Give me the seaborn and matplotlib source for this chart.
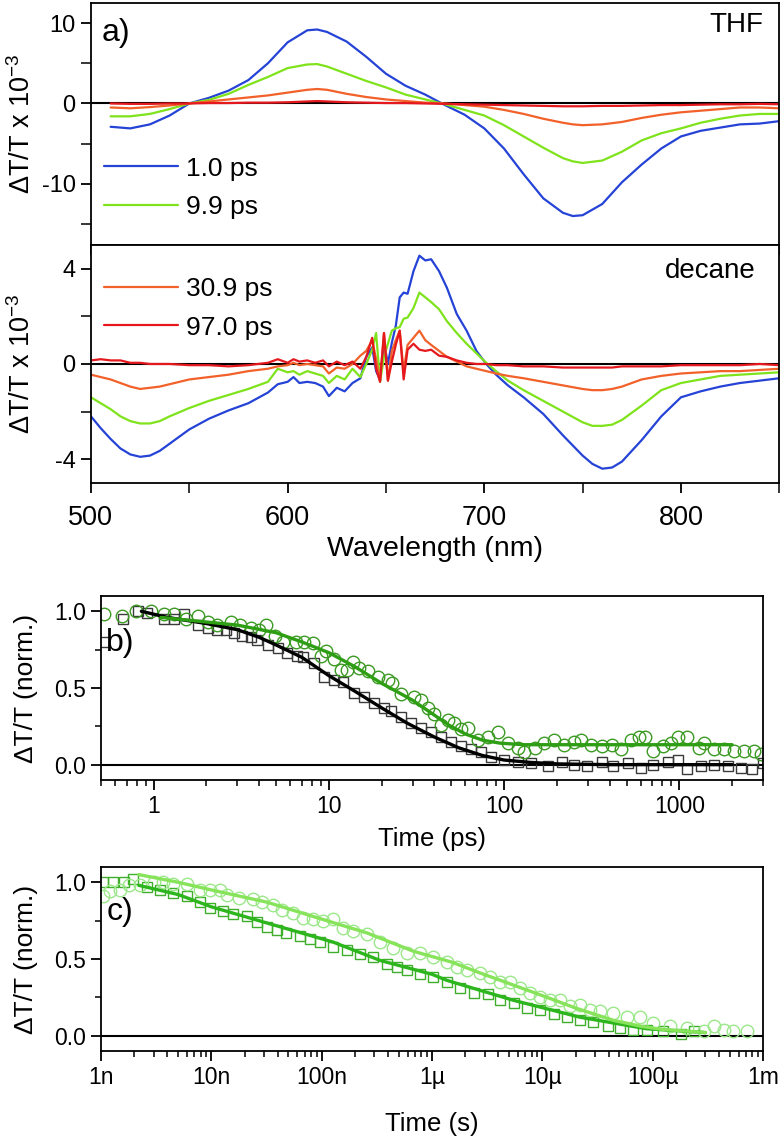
import matplotlib
matplotlib.use("Agg")
import matplotlib.pyplot as plt
from matplotlib.ticker import MultipleLocator, LogLocator, FixedLocator, FixedFormatter, NullFormatter
from matplotlib.lines import Line2D
import seaborn as sns

# ---------------- panel a: spectra ----------------
delays = ["1.0 ps", "9.9 ps", "30.9 ps", "97.0 ps"]
delay_colors = ["#2543d6", "#7fe31c", "#f2612a", "#e5181e"]

wl_thf = [510, 520, 530, 540, 550, 560, 570, 580, 590, 600, 610, 615, 620, 630, 640, 650, 660, 670,
          680, 690, 700, 710, 720, 730, 740, 745, 750, 760, 770, 780, 790, 800, 810, 820, 830, 840, 850]
thf_1ps = [-2.9, -3.1, -2.6, -1.5, 0.0, 0.7, 1.6, 2.9, 5.0, 7.6, 9.1, 9.2, 8.9, 7.7, 5.8, 3.7, 2.2, 1.1,
           -0.2, -1.4, -3.1, -5.6, -8.8, -11.8, -13.6, -14.0, -13.9, -12.5, -9.8, -7.6, -5.6, -4.1, -3.4,
           -3.0, -2.6, -2.5, -2.2]
thf_10ps = [-1.6, -1.6, -1.3, -0.7, 0.0, 0.45, 1.2, 2.3, 3.3, 4.4, 4.85, 4.9, 4.6, 3.7, 2.8, 2.0, 1.1, 0.5,
            -0.1, -0.8, -1.5, -2.7, -4.1, -5.5, -6.8, -7.2, -7.4, -7.1, -6.0, -4.6, -3.7, -3.1, -2.4,
            -1.9, -1.5, -1.3, -1.3]
thf_31ps = [-0.5, -0.6, -0.45, -0.25, 0.0, 0.25, 0.5, 0.75, 1.0, 1.35, 1.7, 1.8, 1.7, 1.2, 0.8, 0.5, 0.3, 0.1,
            0.0, -0.2, -0.4, -0.8, -1.3, -1.9, -2.4, -2.6, -2.7, -2.6, -2.3, -1.8, -1.4, -1.1, -0.9,
            -0.7, -0.5, -0.5, -0.6]
thf_97ps = [0.0, -0.05, -0.05, 0.0, 0.0, 0.05, 0.05, 0.1, 0.1, 0.15, 0.25, 0.3, 0.25, 0.15, 0.1, 0.05, 0.05, 0.0,
            -0.05, -0.1, -0.15, -0.2, -0.25, -0.3, -0.35, -0.35, -0.35, -0.3, -0.3, -0.25, -0.2, -0.2, -0.15,
            -0.1, -0.1, -0.05, -0.1]

wl_dec = [500, 505, 510, 515, 520, 525, 530, 535, 540, 550, 560, 570, 580, 590, 595, 600, 603, 606, 610,
          614, 618, 621, 625, 629, 633, 637, 640, 643, 645, 647, 649, 651, 653, 655, 657, 659, 661, 664,
          667, 670, 673, 677, 681, 686, 691, 696, 701, 706, 712, 720, 730, 740, 750, 755, 760, 765, 770,
          780, 790, 800, 810, 820, 830, 840, 850]
dec_1ps = [-2.2, -2.7, -3.15, -3.55, -3.8, -3.9, -3.85, -3.65, -3.35, -2.75, -2.3, -1.95, -1.65, -1.2, -0.85,
           -0.75, -0.55, -0.8, -0.75, -0.8, -0.95, -1.35, -1.0, -1.15, -0.8, -0.6, 0.3, 0.7, -0.3, -0.65,
           0.9, 0.0, 0.9, 1.6, 2.8, 3.0, 2.95, 3.9, 4.55, 4.35, 4.4, 3.9, 3.2, 2.1, 1.4, 0.55, 0.0, -0.45,
           -0.9, -1.4, -2.1, -3.0, -3.85, -4.2, -4.4, -4.35, -4.1, -3.2, -2.2, -1.4, -1.15, -0.95, -0.8,
           -0.7, -0.6]
dec_10ps = [-1.4, -1.65, -1.9, -2.2, -2.4, -2.5, -2.5, -2.4, -2.2, -1.85, -1.55, -1.3, -1.05, -0.75, -0.2,
            -0.35, -0.3, -0.45, -0.3, -0.4, -0.5, -0.8, -0.5, -0.65, -0.2, -0.55, 0.0, 0.6, 1.3, -0.75,
            0.3, 0.85, 1.4, 1.5, 1.55, 1.9, 1.95, 2.35, 3.0, 2.8, 2.6, 2.3, 1.8, 1.3, 0.85, 0.45, 0.05, -0.3,
            -0.7, -1.1, -1.55, -2.0, -2.45, -2.6, -2.6, -2.55, -2.35, -1.75, -1.1, -0.8, -0.65, -0.5, -0.45,
            -0.4, -0.35]
dec_31ps = [-0.45, -0.55, -0.65, -0.8, -0.95, -1.05, -1.0, -0.95, -0.85, -0.65, -0.55, -0.45, -0.3, -0.2, -0.1,
            -0.05, 0.05, -0.05, 0.0, -0.05, -0.1, -0.4, -0.15, -0.2, 0.0, 0.35, 0.55, 1.0, 0.2, -0.7,
            1.3, -0.7, 0.55, 1.0, 1.4, -0.3, 0.8, 1.1, 1.4, 1.0, 0.8, 0.55, 0.3, 0.1, -0.1, -0.2, -0.3, -0.4,
            -0.5, -0.6, -0.75, -0.9, -1.05, -1.1, -1.1, -1.05, -0.95, -0.65, -0.5, -0.4, -0.35, -0.3, -0.3,
            -0.25, -0.2]
dec_97ps = [0.15, 0.2, 0.15, 0.15, 0.05, 0.05, 0.0, 0.0, 0.0, -0.05, -0.05, -0.1, -0.05, 0.05, 0.2,
            0.05, 0.2, 0.1, 0.15, 0.05, 0.15, -0.1, 0.1, -0.05, 0.1, -0.2, 0.3, 1.1, -0.2, -0.75,
            1.3, -0.7, 0.1, 0.8, 1.4, -0.65, 0.6, 0.85, 0.6, 0.55, 0.6, 0.35, 0.3, 0.15, 0.05, 0.0, 0.0, -0.05,
            -0.05, -0.1, -0.1, -0.15, -0.15, -0.15, -0.15, -0.15, -0.1, -0.1, -0.1, -0.05, -0.05, -0.05, -0.05,
            0.0, -0.05]

# ---------------- panel b: ps kinetics ----------------
sq_t_ps = [0.52, 0.67, 0.81, 0.92, 1.14, 1.3, 1.48, 1.78, 2.03, 2.3, 2.6, 2.87, 3.2, 3.58, 3.9, 4.5, 5.1, 5.8,
           6.6, 7.1, 8.2, 9.4, 10.7, 12, 13.9, 15.8, 18, 20.6, 22.7, 25.8, 29.4, 33.5, 38.2, 43.5, 49.6, 56.5,
           64.4, 73.4, 83.6, 99.7, 120, 143, 178, 215, 250, 297, 360, 420, 509, 605, 705, 865, 980, 1110,
           1325, 1580, 1900, 2250, 2600, 3000]
sq_ps = [0.80, 0.95, 1.0, 0.99, 0.95, 0.95, 0.98, 0.91, 0.89, 0.88, 0.88, 0.86, 0.84, 0.83, 0.81, 0.78, 0.76,
         0.73, 0.71, 0.70, 0.66, 0.57, 0.55, 0.54, 0.47, 0.44, 0.40, 0.37, 0.35, 0.31, 0.27, 0.24, 0.21, 0.18,
         0.15, 0.12, 0.10, 0.08, 0.05, 0.03, 0.02, 0.01, -0.01, 0.02, 0.0, -0.01, 0.02, -0.01, 0.01, -0.02,
         0.0, 0.02, 0.03, -0.03, -0.01, 0.0, -0.01, -0.02, -0.03, 0.01]
ci_t_ps = [0.52, 0.66, 0.79, 0.96, 1.14, 1.3, 1.52, 1.78, 2.03, 2.3, 2.75, 3.1, 3.58, 4.0, 4.4, 4.9, 5.5, 6.5,
           7.2, 8.1, 9.0, 9.6, 10.7, 11.7, 12.6, 13.7, 14.9, 16.6, 19.0, 21.7, 23.0, 25.8, 30.6, 33.5, 36.7,
           39.8, 43.5, 47.6, 51.9, 56.5, 61.8, 70.9, 80.8, 91.9, 105, 120, 130, 149, 169, 193, 220, 250, 275,
           315, 360, 410, 466, 530, 590, 640, 705, 805, 900, 980, 1110, 1290, 1390, 1580, 1800, 2050, 2340,
           2670, 2940]
ci_ps = [0.98, 0.97, 1.0, 1.0, 0.98, 0.98, 0.95, 0.97, 0.93, 0.91, 0.93, 0.91, 0.89, 0.88, 0.91, 0.84, 0.80,
         0.80, 0.80, 0.79, 0.71, 0.74, 0.69, 0.62, 0.62, 0.67, 0.63, 0.61, 0.57, 0.55, 0.53, 0.46, 0.44, 0.42,
         0.37, 0.33, 0.26, 0.29, 0.27, 0.23, 0.24, 0.16, 0.18, 0.21, 0.14, 0.11, 0.08, 0.11, 0.14, 0.16, 0.13,
         0.15, 0.16, 0.13, 0.12, 0.13, 0.10, 0.16, 0.18, 0.18, 0.09, 0.12, 0.14, 0.18, 0.18, 0.11, 0.14, 0.10,
         0.10, 0.09, 0.09, 0.09, 0.07]
fit_sq_t_ps = [0.85, 1.2, 2, 3, 4, 5, 7, 10, 14, 20, 28, 40, 55, 75, 100, 140, 200, 400, 1000, 2000]
fit_sq_ps = [1.0, 0.96, 0.92, 0.88, 0.83, 0.78, 0.70, 0.58, 0.48, 0.37, 0.27, 0.18, 0.11, 0.06, 0.03, 0.015,
             0.005, 0.0, 0.0, 0.0]
fit_ci_t_ps = [1.1, 2, 3, 5, 7, 10, 14, 20, 25, 30, 38, 48, 60, 75, 95, 130, 200, 500, 2000]
fit_ci_ps = [0.96, 0.93, 0.91, 0.86, 0.80, 0.73, 0.64, 0.53, 0.47, 0.42, 0.34, 0.26, 0.20, 0.16, 0.14, 0.13,
             0.13, 0.13, 0.13]

# ---------------- panel c: ns-ms kinetics ----------------
sq_t_s = [1.04e-9, 1.28e-9, 1.6e-9, 1.95e-9, 2.6e-9, 3.4e-9, 4.5e-9, 6e-9, 7.9e-9, 9.7e-9, 12.7e-9, 15.7e-9,
          21e-9, 26e-9, 32e-9, 39e-9, 48e-9, 63e-9, 78e-9, 97e-9, 127e-9, 170e-9, 222e-9, 293e-9, 390e-9,
          480e-9, 590e-9, 780e-9, 1.02e-6, 1.37e-6, 1.8e-6, 2.4e-6, 3.2e-6, 4.1e-6, 5.5e-6, 7.3e-6, 9.6e-6,
          12.7e-6, 16.8e-6, 22e-6, 29e-6, 39e-6, 51e-6, 67e-6, 88e-6, 125e-6, 180e-6, 236e-6]
sq_s = [1.0, 1.0, 1.0, 1.02, 0.97, 0.95, 0.93, 0.91, 0.87, 0.83, 0.81, 0.79, 0.78, 0.74, 0.71, 0.69, 0.67,
        0.65, 0.63, 0.61, 0.58, 0.56, 0.53, 0.51, 0.47, 0.45, 0.43, 0.40, 0.38, 0.35, 0.31, 0.28, 0.27, 0.23,
        0.21, 0.18, 0.17, 0.14, 0.12, 0.10, 0.09, 0.06, 0.05, 0.04, 0.04, 0.03, 0.01, 0.03]
ci_t_s = [1.04e-9, 1.2e-9, 1.5e-9, 1.8e-9, 2.25e-9, 3.0e-9, 3.65e-9, 4.5e-9, 6.0e-9, 7.9e-9, 9.7e-9, 12e-9,
          13.8e-9, 18e-9, 24e-9, 29e-9, 36e-9, 44e-9, 55e-9, 68e-9, 83e-9, 103e-9, 127e-9, 157e-9, 193e-9,
          257e-9, 340e-9, 440e-9, 590e-9, 780e-9, 1.02e-6, 1.37e-6, 1.67e-6, 2.07e-6, 2.7e-6, 3.35e-6,
          4.1e-6, 5.1e-6, 6.3e-6, 7.8e-6, 9.6e-6, 11.8e-6, 14.5e-6, 17.9e-6, 22e-6, 27e-6, 33e-6, 44e-6,
          58e-6, 77e-6, 100e-6, 144e-6, 205e-6, 290e-6, 360e-6, 440e-6, 540e-6, 720e-6]
ci_s = [0.91, 0.94, 0.95, 0.98, 0.98, 1.0, 1.0, 0.99, 0.99, 0.95, 0.95, 0.95, 0.92, 0.90, 0.89, 0.87, 0.85,
        0.82, 0.80, 0.77, 0.76, 0.75, 0.76, 0.70, 0.68, 0.66, 0.61, 0.57, 0.54, 0.54, 0.51, 0.48, 0.45, 0.43,
        0.41, 0.38, 0.35, 0.35, 0.31, 0.28, 0.25, 0.23, 0.23, 0.19, 0.20, 0.17, 0.16, 0.15, 0.12, 0.12, 0.08,
        0.06, 0.05, 0.03, 0.06, 0.04, 0.03, 0.03]
fit_sq_t_s = [2.2e-9, 5e-9, 10e-9, 30e-9, 127e-9, 340e-9, 1e-6, 1.37e-6, 5.5e-6, 22e-6, 88e-6, 300e-6]
fit_sq_s = [0.98, 0.92, 0.84, 0.74, 0.61, 0.49, 0.40, 0.36, 0.23, 0.12, 0.045, 0.02]
fit_ci_t_s = [2.2e-9, 5e-9, 10e-9, 32e-9, 100e-9, 257e-9, 680e-9, 1.5e-6, 2.7e-6, 5e-6, 11e-6, 20e-6, 44e-6,
              80e-6, 125e-6, 200e-6, 300e-6]
fit_ci_s = [1.05, 1.0, 0.95, 0.87, 0.76, 0.67, 0.55, 0.48, 0.41, 0.34, 0.25, 0.18, 0.10, 0.06, 0.04, 0.03, 0.02]

c_ticks = [1e-9, 1e-8, 1e-7, 1e-6, 1e-5, 1e-4, 1e-3]
c_tick_labels = ["1n", "10n", "100n", "1µ", "10µ", "100µ", "1m"]

sns.set_style("ticks")
plt.rcParams["font.family"] = ["Liberation Sans", "DejaVu Sans"]
plt.rcParams["mathtext.default"] = "regular"
plt.rcParams["axes.unicode_minus"] = False
plt.rcParams["axes.linewidth"] = 1.3
plt.rcParams["axes.edgecolor"] = "black"
plt.rcParams["axes.labelcolor"] = "black"
plt.rcParams["text.color"] = "black"
plt.rcParams["xtick.color"] = "black"
plt.rcParams["ytick.color"] = "black"
plt.rcParams["xtick.major.width"] = 1.3
plt.rcParams["ytick.major.width"] = 1.3
plt.rcParams["xtick.minor.width"] = 1.1
plt.rcParams["ytick.minor.width"] = 1.1

fig = plt.figure(figsize=(7.84, 11.41), dpi=100)
ax_thf = fig.add_axes([0.116, 0.7853, 0.878, 0.2121])
ax_dec = fig.add_axes([0.116, 0.5767, 0.878, 0.2086])
ax_b = fig.add_axes([0.1288, 0.3164, 0.8444, 0.1613])
ax_c = fig.add_axes([0.1288, 0.0789, 0.8444, 0.1613])

for ax in (ax_thf, ax_dec, ax_b, ax_c):
    ax.axhline(0, color="black", lw=1.5, zorder=1)

thf_series = [thf_1ps, thf_10ps, thf_31ps, thf_97ps]
dec_series = [dec_1ps, dec_10ps, dec_31ps, dec_97ps]
for col, ythf, ydec in zip(delay_colors, thf_series, dec_series):
    sns.lineplot(x=wl_thf, y=ythf, color=col, lw=1.6, ax=ax_thf, estimator=None, sort=False)
    sns.lineplot(x=wl_dec, y=ydec, color=col, lw=1.6, ax=ax_dec, estimator=None, sort=False)

for ax in (ax_thf, ax_dec):
    ax.set_xlim(500, 850)
    ax.xaxis.set_major_locator(MultipleLocator(100))
    ax.xaxis.set_minor_locator(MultipleLocator(50))
    ax.tick_params(which="both", length=7.5)
    ax.tick_params(axis="y", labelsize=17)
    ax.tick_params(axis="x", labelsize=19.5, pad=8)
    ax.set_ylabel(r"ΔT/T x 10$^{-3}$", fontsize=19.5)
    ax.yaxis.set_label_coords(-0.08, 0.5)

ax_thf.set_ylim(-17.6, 12.5)
ax_thf.yaxis.set_major_locator(MultipleLocator(10))
ax_thf.yaxis.set_minor_locator(MultipleLocator(5))
ax_thf.tick_params(labelbottom=False)
ax_dec.set_ylim(-5, 5)
ax_dec.yaxis.set_major_locator(MultipleLocator(4))
ax_dec.yaxis.set_minor_locator(MultipleLocator(2))
ax_dec.set_xlabel("Wavelength (nm)", fontsize=20.5, labelpad=4)

handles = [Line2D([], [], color=c, lw=1.6) for c in delay_colors]
leg_kw = dict(loc="upper left", frameon=False, fontsize=19, handlelength=2.8, handletextpad=0.3,
              labelspacing=0.55, borderpad=0, borderaxespad=0)
ax_thf.legend(handles[:2], delays[:2], bbox_to_anchor=(0.019, 0.365), **leg_kw)
ax_dec.legend(handles[2:], delays[2:], bbox_to_anchor=(0.019, 0.865), **leg_kw)

ax_thf.text(0.015, 0.875, "a)", transform=ax_thf.transAxes, fontsize=23, va="center", ha="left")
ax_thf.text(0.977, 0.91, "THF", transform=ax_thf.transAxes, fontsize=20, va="center", ha="right")
ax_dec.text(0.965, 0.89, "decane", transform=ax_dec.transAxes, fontsize=20, va="center", ha="right")

# panel b
sns.lineplot(x=sq_t_ps, y=sq_ps, ax=ax_b, estimator=None, sort=False, marker="s", linestyle="none",
             markersize=7.5, markerfacecolor="none", markeredgecolor="#3a3a3a", markeredgewidth=1.0)
sns.lineplot(x=ci_t_ps, y=ci_ps, ax=ax_b, estimator=None, sort=False, marker="o", linestyle="none",
             markersize=9, markerfacecolor="none", markeredgecolor="#3c9a24", markeredgewidth=1.0)
sns.lineplot(x=fit_sq_t_ps, y=fit_sq_ps, ax=ax_b, estimator=None, sort=False, color="black", lw=2.4)
sns.lineplot(x=fit_ci_t_ps, y=fit_ci_ps, ax=ax_b, estimator=None, sort=False, color="#2e9e14", lw=2.4)
ax_b.set_xscale("log")
ax_b.set_xlim(0.5, 3000)
ax_b.set_xticks([1, 10, 100, 1000])
ax_b.set_xticklabels(["1", "10", "100", "1000"])
ax_b.xaxis.set_minor_locator(LogLocator(base=10, subs=range(2, 10), numticks=20))
ax_b.xaxis.set_minor_formatter(NullFormatter())
ax_b.set_xlabel("Time (ps)", fontsize=18.5, labelpad=7)
ax_b.text(0.008, 0.745, "b)", transform=ax_b.transAxes, fontsize=23, va="center", ha="left")

# panel c
sns.lineplot(x=sq_t_s, y=sq_s, ax=ax_c, estimator=None, sort=False, marker="s", linestyle="none",
             markersize=7, markerfacecolor="none", markeredgecolor="#3fae2a", markeredgewidth=1.0)
sns.lineplot(x=ci_t_s, y=ci_s, ax=ax_c, estimator=None, sort=False, marker="o", linestyle="none",
             markersize=9, markerfacecolor="none", markeredgecolor="#9be88a", markeredgewidth=1.0)
sns.lineplot(x=fit_sq_t_s, y=fit_sq_s, ax=ax_c, estimator=None, sort=False, color="#2db51e", lw=2.4)
sns.lineplot(x=fit_ci_t_s, y=fit_ci_s, ax=ax_c, estimator=None, sort=False, color="#86e35a", lw=2.4)
ax_c.set_xscale("log")
ax_c.set_xlim(1e-9, 1e-3)
ax_c.xaxis.set_major_locator(FixedLocator(c_ticks))
ax_c.xaxis.set_major_formatter(FixedFormatter(c_tick_labels))
ax_c.xaxis.set_minor_locator(LogLocator(base=10, subs=range(2, 10), numticks=30))
ax_c.xaxis.set_minor_formatter(NullFormatter())
ax_c.set_xlabel("Time (s)", fontsize=18.5, labelpad=17)
ax_c.text(0.008, 0.755, "c)", transform=ax_c.transAxes, fontsize=23, va="center", ha="left")

for ax in (ax_b, ax_c):
    ax.set_ylim(-0.1, 1.1)
    ax.yaxis.set_major_locator(MultipleLocator(0.5))
    ax.yaxis.set_minor_locator(MultipleLocator(0.25))
    ax.yaxis.set_major_formatter(matplotlib.ticker.FormatStrFormatter("%.1f"))
    ax.tick_params(which="major", length=7, labelsize=16.5)
    ax.tick_params(which="minor", length=4.5)
    ax.set_ylabel("ΔT/T (norm.)", fontsize=19)
    ax.yaxis.set_label_coords(-0.095, 0.5)

fig.savefig("out.png", dpi=100)
